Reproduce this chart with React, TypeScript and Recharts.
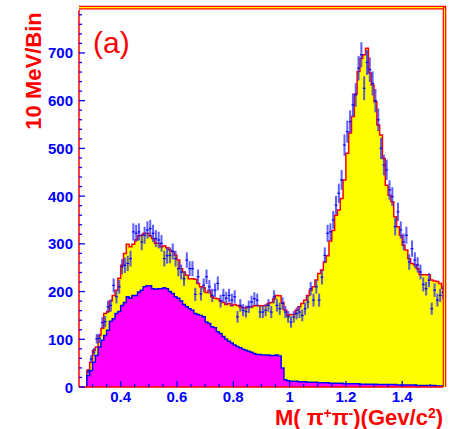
import React from "react";
import { ComposedChart, Area, Scatter, ErrorBar, XAxis, YAxis, ReferenceLine } from "recharts";

// 10 MeV bins, first bin starts at 0.28 GeV
const BIN_LOW = 0.28;
const BIN_WIDTH = 0.01;

// total MC (yellow, red outline)
const TOTAL_MC = [
  35, 52, 77, 84, 108, 123, 154, 158, 180, 192,
  203, 228, 255, 280, 299, 294, 299, 308, 317, 318,
  322, 322, 317, 311, 301, 301, 294, 296, 292, 287,
  284, 276, 266, 248, 241, 234, 227, 227, 226, 217,
  210, 208, 198, 203, 189, 186, 185, 180, 177, 173,
  175, 171, 173, 171, 168, 166, 166, 168, 168, 170,
  171, 170, 170, 171, 175, 177, 185, 192, 191, 177,
  161, 150, 152, 152, 161, 168, 175, 182, 192, 203,
  210, 224, 238, 245, 262, 275, 306, 328, 360, 371,
  395, 434, 490, 532, 567, 614, 661, 689, 696, 710,
  658, 633, 598, 549, 528, 479, 423, 402, 388, 357,
  336, 318, 297, 287, 269, 259, 256, 248, 236, 235,
  235, 235, 224, 222, 221, 217, 207,
];

// pi pi component (magenta, blue outline)
const PIPI_MC = [
  24, 34, 52, 66, 84, 98, 108, 119, 138, 143,
  154, 158, 171, 177, 189, 186, 192, 192, 199, 203,
  210, 212, 212, 206, 205, 206, 206, 208, 206, 200,
  196, 189, 186, 180, 173, 168, 164, 161, 154, 152,
  150, 147, 136, 133, 126, 124, 116, 112, 106, 100,
  96, 92, 88, 85, 82, 79, 77, 75, 73, 70,
  68, 68, 67, 67, 67, 66, 66, 67, 65, 40,
  15, 13, 12, 12, 12, 11, 11, 11, 10, 10,
  10, 10, 9, 9, 9, 9, 8, 8, 8, 8,
  8, 7, 7, 7, 7, 7, 7, 6, 6, 6,
  6, 6, 6, 5, 5, 5, 5, 5, 5, 5,
  4, 4, 4, 4, 4, 4, 4, 3, 3, 3,
  3, 3, 3, 3, 2, 2, 2,
];

// measured events per bin
const DATA = [
  32, 59, 73, 101, 102, 135, 137, 168, 171, 213,
  189, 210, 252, 255, 259, 269, 325, 322, 325, 304,
  318, 329, 332, 322, 311, 308, 301, 269, 275, 276,
  284, 269, 248, 241, 227, 266, 248, 248, 194, 231,
  195, 213, 231, 210, 192, 203, 217, 180, 192, 186,
  192, 182, 189, 147, 171, 161, 158, 168, 178, 185,
  182, 157, 157, 161, 171, 157, 189, 171, 164, 175,
  157, 147, 136, 147, 154, 157, 150, 164, 178, 206,
  182, 210, 182, 230, 276, 322, 325, 350, 381, 406,
  434, 507, 535, 556, 591, 612, 668, 696, 626, 680,
  665, 636, 600, 560, 500, 465, 455, 413, 399, 336,
  367, 329, 304, 318, 262, 290, 266, 256, 241, 215,
  206, 224, 164, 203, 182, 192, 198,
];

const X_MAJOR = [0.4, 0.6, 0.8, 1, 1.2, 1.4];
const X_LABELS = ["0.4", "0.6", "0.8", "1", "1.2", "1.4"];
const X_TICKS = [
  0.3, 0.35, 0.4, 0.45, 0.5, 0.55, 0.6, 0.65, 0.7, 0.75, 0.8, 0.85, 0.9,
  0.95, 1, 1.05, 1.1, 1.15, 1.2, 1.25, 1.3, 1.35, 1.4, 1.45, 1.5,
];
const Y_MAJOR = [0, 100, 200, 300, 400, 500, 600, 700];
const Y_TICKS = Array.from({ length: 40 }, (_, i) => i * 20);

const X_DOMAIN = [0.252, 1.545];
const Y_DOMAIN = [0, 790];

const FONT = "'Liberation Sans', Arial, sans-serif";
const BLUE = "#0000ff";
const RED = "#ff0000";

const edge = (i: number) => Math.round((BIN_LOW + i * BIN_WIDTH) * 1000) / 1000;

const n = TOTAL_MC.length;
const histData = [
  { x: edge(0), total: 0, pipi: 0 },
  ...TOTAL_MC.map((v, i) => ({ x: edge(i), total: v, pipi: PIPI_MC[i] })),
  { x: edge(n), total: TOTAL_MC[n - 1], pipi: PIPI_MC[n - 1] },
];

const pointData = DATA.map((v, i) => ({
  x: edge(i) + BIN_WIDTH / 2,
  y: v,
  err: Math.sqrt(v),
}));

function XTick({ x, y, payload }: any) {
  const idx = X_MAJOR.findIndex((m) => Math.abs(m - payload.value) < 1e-6);
  const major = idx >= 0;
  return (
    <g>
      <line x1={x} x2={x} y1={y} y2={y - (major ? 6 : 3)} stroke={BLUE} strokeWidth={1.3} />
      {major && (
        <text x={x} y={y + 15} textAnchor="middle" fill={BLUE} fontSize={15} fontWeight="bold" fontFamily={FONT}>
          {X_LABELS[idx]}
        </text>
      )}
    </g>
  );
}

function YTick({ x, y, payload }: any) {
  const major = Y_MAJOR.includes(payload.value);
  return (
    <g>
      <line x1={x} x2={x + (major ? 6 : 3)} y1={y} y2={y} stroke={BLUE} strokeWidth={1.3} />
      {major && (
        <text x={x - 6} y={y + 5.5} textAnchor="end" fill={BLUE} fontSize={15} fontWeight="bold" fontFamily={FONT}>
          {payload.value}
        </text>
      )}
    </g>
  );
}

function PointMark({ cx, cy }: any) {
  return <line x1={cx - 1.4} x2={cx + 1.4} y1={cy} y2={cy} stroke={BLUE} strokeWidth={1.2} />;
}

const sup: React.CSSProperties = { fontSize: 14, position: "relative", top: -7, lineHeight: "14px" };

export default function App() {
  return (
    <div style={{ position: "absolute", left: 0, top: 0, width: 449, height: 429, background: "#fff", fontFamily: FONT }}>
      <ComposedChart width={449} height={429} margin={{ top: 10, right: 6, bottom: 0, left: 19 }}>
        <XAxis
          type="number"
          dataKey="x"
          domain={X_DOMAIN}
          allowDataOverflow
          ticks={X_TICKS}
          interval={0}
          tickSize={0}
          tickMargin={0}
          tickLine={false}
          tick={<XTick />}
          axisLine={{ stroke: RED, strokeWidth: 1.5 }}
          height={42}
        />
        <YAxis
          type="number"
          domain={Y_DOMAIN}
          allowDataOverflow
          ticks={Y_TICKS}
          interval={0}
          tickSize={0}
          tickMargin={0}
          tickLine={false}
          tick={<YTick />}
          axisLine={{ stroke: RED, strokeWidth: 1.5 }}
          width={60}
        />
        <Area
          data={histData}
          dataKey="total"
          type="stepAfter"
          fill="#ffff00"
          fillOpacity={1}
          stroke={RED}
          strokeWidth={1.5}
          isAnimationActive={false}
          dot={false}
          activeDot={false}
        />
        <Area
          data={histData}
          dataKey="pipi"
          type="stepAfter"
          fill="#ff00ff"
          fillOpacity={1}
          stroke={BLUE}
          strokeWidth={1.5}
          isAnimationActive={false}
          dot={false}
          activeDot={false}
        />
        <Scatter data={pointData} dataKey="y" shape={<PointMark />} isAnimationActive={false}>
          <ErrorBar dataKey="err" direction="y" width={0} stroke="#2a2aff" strokeWidth={2} strokeOpacity={0.75} isAnimationActive={false} />
        </Scatter>
        {/* frame on top and right side */}
        <ReferenceLine
          segment={[{ x: 0.252, y: 795 }, { x: 1.556, y: 795 }]}
          ifOverflow="visible"
          stroke={RED}
          strokeWidth={3.6}
        />
        <ReferenceLine
          segment={[{ x: 0.252, y: 795 }, { x: 1.556, y: 795 }]}
          ifOverflow="visible"
          stroke="#ffff00"
          strokeWidth={1.2}
        />
        <ReferenceLine
          segment={[{ x: 1.5503, y: 0 }, { x: 1.5503, y: 797 }]}
          ifOverflow="visible"
          stroke={RED}
          strokeWidth={3.6}
        />
        <ReferenceLine
          segment={[{ x: 1.5503, y: 0 }, { x: 1.5503, y: 795 }]}
          ifOverflow="visible"
          stroke="#ffff00"
          strokeWidth={1.2}
        />
      </ComposedChart>

      <div
        style={{
          position: "absolute",
          left: 34.4,
          top: 71,
          transform: "translate(-50%, -50%) rotate(-90deg)",
          whiteSpace: "nowrap",
          color: RED,
          fontWeight: "bold",
          fontSize: 22,
          lineHeight: "22px",
        }}
      >
        10 MeV/Bin
      </div>

      <div
        style={{
          position: "absolute",
          right: 6,
          top: 407,
          whiteSpace: "nowrap",
          color: RED,
          fontWeight: "bold",
          fontSize: 22,
          lineHeight: "22px",
        }}
      >
        M( π<span style={sup}>+</span>π<span style={sup}>-</span>)(Gev/c<span style={sup}>2</span>)
      </div>

      <div
        style={{
          position: "absolute",
          left: 93,
          top: 28,
          color: RED,
          fontSize: 30,
          lineHeight: "30px",
          fontFamily: "'Liberation Sans', sans-serif",
          fontWeight: "normal",
        }}
      >
        (a)
      </div>
    </div>
  );
}
